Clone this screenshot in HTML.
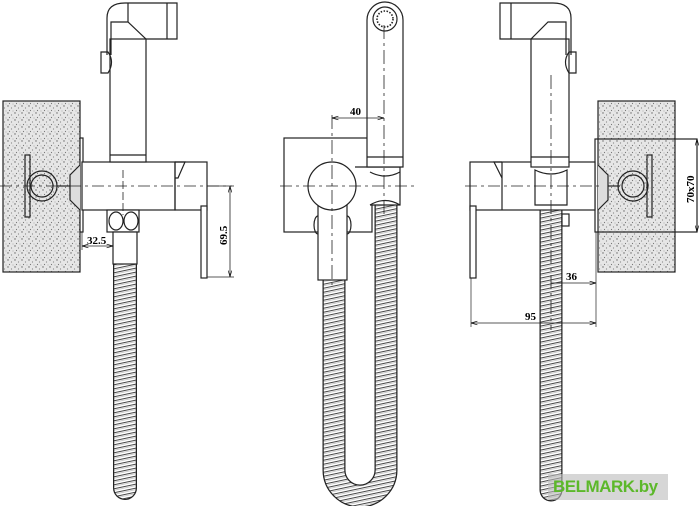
<!DOCTYPE html>
<html><head><meta charset="utf-8"><style>
html,body{margin:0;padding:0;background:#fff;width:700px;height:506px;overflow:hidden}
svg{display:block}
text{font-family:"Liberation Serif",serif;font-weight:bold;font-size:11px;fill:#000}
</style></head><body>
<svg width="700" height="506" viewBox="0 0 700 506" xmlns="http://www.w3.org/2000/svg">
<defs>
<pattern id="st" width="7" height="7" patternUnits="userSpaceOnUse">
<rect width="7" height="7" fill="#e6e6e6"/>
<circle cx="1" cy="1" r=".7" fill="#666"/><circle cx="4.5" cy="3" r=".6" fill="#888"/><circle cx="2.5" cy="5.5" r=".6" fill="#777"/><circle cx="6" cy="6" r=".5" fill="#999"/>
</pattern>
<pattern id="hv" width="30" height="4" patternUnits="userSpaceOnUse" patternTransform="skewY(-12)">
<rect width="30" height="4" fill="#fff"/><line x1="0" y1="1" x2="30" y2="1" stroke="#444" stroke-width=".9"/><line x1="0" y1="2.5" x2="30" y2="2.5" stroke="#999" stroke-width=".5"/>
</pattern>
<marker id="a" markerWidth="8" markerHeight="6" refX="8" refY="3" orient="auto-start-reverse"><path d="M0,0.8 L8,3 L0,5.2" fill="none" stroke="#000" stroke-width=".8"/></marker>
</defs>
<g fill="none" stroke="#222" stroke-width="1.2">
<!-- hoses -->
<path id="h1" d="M125,232 L125,488" stroke="#222" stroke-width="24" stroke-linecap="round"/>
<path d="M125,232 L125,488" stroke="url(#hv)" stroke-width="21.5" stroke-linecap="round"/>
<path d="M334,280 L334,470 A26,26 0 0 0 386,470 L386,205" stroke="#222" stroke-width="23"/>
<path d="M334,280 L334,470 A26,26 0 0 0 386,470 L386,205" stroke="url(#hv)" stroke-width="20.5"/>
<path d="M551,210 L551,490" stroke="#222" stroke-width="23" stroke-linecap="round"/>
<path d="M551,210 L551,490" stroke="url(#hv)" stroke-width="20.5" stroke-linecap="round"/>
<!-- LEFT VIEW -->
<rect x="3" y="101" width="77" height="171" fill="url(#st)"/>
<rect x="80" y="138" width="3" height="94" fill="#fff"/>
<path d="M80,165 L70,175 L70,200 L80,210" fill="#ddd"/>
<circle cx="42" cy="186" r="15"/><circle cx="42" cy="186" r="11"/>
<rect x="25" y="155" width="5" height="62"/>
<line x1="57" y1="186" x2="70" y2="186"/>
<rect x="82" y="162" width="93" height="48" fill="#fff"/>
<path d="M175,162 L185,162 L178,178 L175,178"/>
<rect x="175" y="162" width="32" height="48"/>
<rect x="201" y="206" width="6" height="72" fill="#fff"/>
<rect x="110" y="39" width="36" height="123" fill="#fff"/>
<line x1="110" y1="155" x2="146" y2="155"/>
<path d="M107,55 L107,18 Q107,3 125,3 L177,3 L177,39 L146,39 L128,22 L111,22 L111,55"/>
<line x1="128" y1="3" x2="128" y2="22"/><line x1="167" y1="3" x2="167" y2="39"/>
<path d="M101,52 L108,52 Q115,62 108,73 L101,73 Z"/>
<rect x="107" y="210" width="32" height="22" fill="#fff"/>
<ellipse cx="116" cy="221" rx="7" ry="9"/><ellipse cx="131" cy="221" rx="7" ry="9"/>
<rect x="113" y="232" width="24" height="32" fill="#fff"/>
<line x1="0" y1="186" x2="232" y2="186" stroke-dasharray="12,4,3,4" stroke-width=".8"/>
<line x1="123" y1="170" x2="123" y2="215" stroke-dasharray="8,3" stroke-width=".8"/>
<line x1="207" y1="186" x2="234" y2="186" stroke-width=".7"/>
<line x1="207" y1="277" x2="234" y2="277" stroke-width=".7"/>
<line x1="230" y1="186" x2="230" y2="277" stroke-width=".8" marker-start="url(#a)" marker-end="url(#a)"/>
<line x1="82" y1="246" x2="113" y2="246" stroke-width=".8" marker-start="url(#a)" marker-end="url(#a)"/>
<line x1="82" y1="232" x2="82" y2="250" stroke-width=".7"/>
<!-- MIDDLE VIEW -->
<rect x="284" y="138" width="88" height="94" fill="#fff"/>
<ellipse cx="318" cy="225" rx="4" ry="9"/><ellipse cx="347" cy="225" rx="4" ry="9"/>
<rect x="318" y="205" width="29" height="75" fill="#fff"/>
<circle cx="332" cy="186" r="24" fill="#fff"/>
<path d="M355,167 L400,167 L400,205 L370,205" fill="#fff"/>
<path d="M370,172 Q385,180 400,172 M370,205 Q385,196 400,205"/>
<path d="M367,167 L367,20 A18,18 0 0 1 403,20 L403,167 Z" fill="#fff"/>
<line x1="367" y1="157" x2="403" y2="157"/>
<circle cx="385" cy="19" r="12"/><circle cx="385" cy="19" r="8" stroke-dasharray="1.5,1.5" stroke-width="1.6"/>
<line x1="280" y1="186" x2="415" y2="186" stroke-dasharray="12,4,3,4" stroke-width=".8"/>
<line x1="332" y1="115" x2="332" y2="285" stroke-dasharray="14,4,3,4" stroke-width=".8"/>
<line x1="384" y1="25" x2="384" y2="215" stroke-dasharray="14,4,3,4" stroke-width=".8"/>
<line x1="332" y1="118" x2="384" y2="118" stroke-width=".8" marker-start="url(#a)" marker-end="url(#a)"/>
<!-- RIGHT VIEW -->
<rect x="598" y="101" width="77" height="171" fill="url(#st)"/>
<rect x="595" y="139" width="102" height="93"/>
<path d="M598,165 L608,175 L608,200 L598,210" fill="#ddd"/>
<circle cx="633" cy="186" r="15"/><circle cx="633" cy="186" r="11"/>
<rect x="647" y="155" width="5" height="62"/>
<line x1="608" y1="186" x2="620" y2="186"/>
<rect x="470" y="162" width="125" height="48" fill="#fff"/>
<path d="M502,162 L494,162 L502,178"/>
<line x1="502" y1="162" x2="502" y2="210"/>
<rect x="470" y="206" width="6" height="72" fill="#fff"/>
<rect x="531" y="39" width="38" height="128" fill="#fff"/>
<line x1="531" y1="157" x2="569" y2="157"/>
<path d="M571,55 L571,18 Q571,3 553,3 L500,3 L500,39 L531,39 L548,22 L566,22 L566,55"/>
<line x1="511" y1="3" x2="511" y2="39"/>
<path d="M576,52 L569,52 Q562,62 569,73 L576,73 Z"/>
<path d="M535,170 Q551,178 567,170 L567,205 L535,205 Z" fill="#fff"/>
<rect x="562" y="214" width="7" height="12"/>
<line x1="551" y1="75" x2="551" y2="330" stroke-dasharray="14,4,3,4" stroke-width=".8"/>
<line x1="465" y1="186" x2="600" y2="186" stroke-dasharray="12,4,3,4" stroke-width=".8"/>
<line x1="697" y1="139" x2="697" y2="232" stroke-width=".8" marker-start="url(#a)" marker-end="url(#a)"/>
<line x1="471" y1="278" x2="471" y2="327" stroke-width=".7"/>
<line x1="596" y1="232" x2="596" y2="327" stroke-width=".7"/>
<line x1="551" y1="283" x2="596" y2="283" stroke-width=".8" marker-end="url(#a)"/>
<line x1="471" y1="323" x2="596" y2="323" stroke-width=".8" marker-start="url(#a)" marker-end="url(#a)"/>
</g>
<text x="87" y="244">32.5</text>
<text transform="translate(227,245) rotate(-90)">69.5</text>
<text x="350" y="115">40</text>
<text x="566" y="280">36</text>
<text x="525" y="320">95</text>
<text transform="translate(694,203) rotate(-90)">70x70</text>
<rect x="548" y="474" width="120" height="26" fill="#bbb" opacity=".6"/>
<text x="553" y="492" style="font-family:'Liberation Sans',sans-serif;font-size:17px;font-weight:bold;fill:#5cb82a;letter-spacing:-0.5px">BELMARK.by</text>
</svg>
</body></html>
